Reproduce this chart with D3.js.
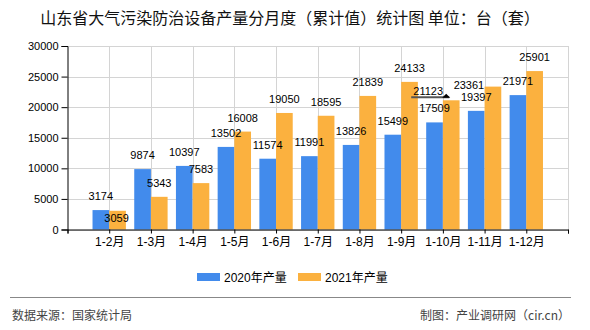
<!DOCTYPE html>
<html>
<head>
<meta charset="utf-8">
<script src="https://cdn.jsdelivr.net/npm/d3@7/dist/d3.min.js"></script>
<style>
  html, body { margin: 0; padding: 0; background: #fff; }
  svg { display: block; }
  text { font-family: "Liberation Sans", "Noto Sans CJK SC", sans-serif; }
</style>
</head>
<body>
<svg id="chart" width="590" height="330"></svg>
<script>
const categories = ["1-2月","1-3月","1-4月","1-5月","1-6月","1-7月","1-8月","1-9月","1-10月","1-11月","1-12月"];
const values2020 = [3174, 9874, 10397, 13502, 11574, 11991, 13826, 15499, 17509, 19397, 21971];
const values2021 = [3059, 5343, 7583, 16008, 19050, 18595, 21839, 24133, 21123, 23361, 25901];
const seriesNames = ["2020年产量", "2021年产量"];
const yTicks = [0, 5000, 10000, 15000, 20000, 25000, 30000];

const colors = ["#428BEC", "#FBB13F"];
const svg = d3.select("#chart");
const pLeft = 67.5, pRight = 568, pTop = 46, pBottom = 229.5;
const cjk = '"Noto Sans CJK SC", sans-serif';

// title
svg.append("text").attr("x", 290).attr("y", 24).attr("text-anchor", "middle")
  .style("font-family", cjk).style("font-size", "16px").attr("fill", "#111")
  .text("山东省大气污染防治设备产量分月度（累计值）统计图 单位：台（套）");

// x: 12 steps, first slot left empty
const x = d3.scalePoint().domain(["__start", ...categories, "__end"]).range([pLeft, pRight]);
const sub = d3.scaleBand().domain([0, 1]).range([-x.step() * 0.4, x.step() * 0.4]);
const y = d3.scaleLinear().domain([0, 30000]).range([pBottom, pTop]);

// grid
const g = svg.append("g");
g.selectAll(".hg").data(yTicks).join("line")
  .attr("x1", pLeft).attr("x2", pRight)
  .attr("y1", d => Math.round(y(d)) + 0.5).attr("y2", d => Math.round(y(d)) + 0.5)
  .attr("stroke", "#d4d4d4");
g.selectAll(".vg").data([...categories, "__end"]).join("line")
  .attr("x1", d => Math.round(x(d)) + 0.5).attr("x2", d => Math.round(x(d)) + 0.5)
  .attr("y1", pTop).attr("y2", pBottom)
  .attr("stroke", "#d4d4d4");

// bars
const series = [values2020, values2021];
series.forEach((vals, si) => {
  svg.append("g").selectAll("rect").data(vals).join("rect")
    .attr("x", (d, i) => x(categories[i]) + sub(si))
    .attr("width", sub.bandwidth())
    .attr("y", d => y(d))
    .attr("height", d => y(0) - y(d))
    .attr("fill", colors[si]);
});

// axes
const yAxis = d3.axisLeft(y).tickValues(yTicks).tickSize(6).tickFormat(d3.format("d"));
const ya = svg.append("g").attr("transform", `translate(${pLeft},0)`).call(yAxis);
ya.select(".domain").attr("stroke", "#000");
ya.selectAll(".tick line").attr("stroke", "#000");
ya.selectAll(".tick text").attr("x", -9).style("font-size", "11px").attr("fill", "#000")
  .style("font-family", '"Liberation Sans", sans-serif');

const xAxis = d3.axisBottom(x).tickValues(["__start", ...categories, "__end"]).tickSize(4)
  .tickFormat(d => d.startsWith("__") ? "" : d);
const xa = svg.append("g").attr("transform", `translate(0,${pBottom})`).call(xAxis);
xa.select(".domain").attr("stroke", "#000");
xa.selectAll(".tick line").attr("stroke", "#000");
xa.selectAll(".tick text").attr("y", 8).style("font-size", "12px").attr("fill", "#000")
  .style("font-family", '"Liberation Sans", "Noto Sans CJK SC", sans-serif');

// value labels (nudges mimic the original's label collision avoidance)
const nudge = { "1|0": [-1, 21], "1|8": [-23, 5], "1|9": [-24, 12] };
series.forEach((vals, si) => {
  svg.append("g").selectAll("text").data(vals).join("text")
    .attr("x", (d, i) => x(categories[i]) + sub(si) + sub.bandwidth() / 2 + ((nudge[si + "|" + i] || [0, 0])[0]))
    .attr("y", (d, i) => y(d) - 10 + ((nudge[si + "|" + i] || [0, 0])[1]))
    .attr("text-anchor", "middle").style("font-size", "11px").attr("fill", "#000")
    .text(d => d);
});

// small pointer mark under the 21123 label
const pi = 8;
const px = x(categories[pi]) + sub(1) + sub.bandwidth() / 2;
const py = y(values2021[pi]) - 3;
svg.append("line").attr("x1", px - 40).attr("x2", px - 2).attr("y1", py).attr("y2", py)
  .attr("stroke", "#555").attr("stroke-width", 2);
svg.append("path").attr("d", `M${px - 5},${py - 3.5} L${px - 9},${py + 0.5} L${px - 1},${py + 0.5} Z`).attr("fill", "#000");

// legend
const lg = svg.append("g");
const legendX = [197, 298];
seriesNames.forEach((n, i) => {
  lg.append("rect").attr("x", legendX[i]).attr("y", 273).attr("width", 23).attr("height", 8).attr("fill", colors[i]);
  lg.append("text").attr("x", legendX[i] + 27).attr("y", 282).style("font-size", "12px")
    .style("font-family", '"Liberation Sans", "Noto Sans CJK SC", sans-serif').attr("fill", "#000").text(n);
});

// footer
svg.append("line").attr("x1", 10).attr("x2", 571).attr("y1", 297.5).attr("y2", 297.5).attr("stroke", "#888");
svg.append("text").attr("x", 12).attr("y", 320).style("font-size", "12px").style("font-family", cjk)
  .attr("fill", "#444").text("数据来源：国家统计局");
svg.append("text").attr("x", 570).attr("y", 320).attr("text-anchor", "end").style("font-size", "12px")
  .style("font-family", cjk).attr("fill", "#444").text("制图：产业调研网（cir.cn）");
</script>
</body>
</html>
